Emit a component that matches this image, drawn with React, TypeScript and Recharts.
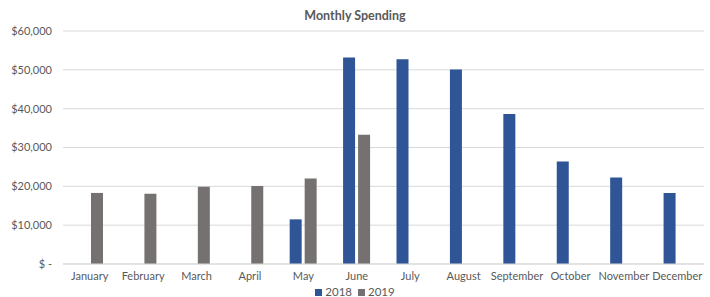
import React from "react";
import { BarChart, Bar, XAxis, YAxis, CartesianGrid } from "recharts";

const months = ["January","February","March","April","May","June","July","August","September","October","November","December"];
const spending2018 = [null, null, null, null, 11500, 53200, 52700, 50100, 38600, 26400, 22300, 18300];
const spending2019 = [18300, 18100, 19900, 20100, 22000, 33300, null, null, null, null, null, null];
const yTicks = [0, 10000, 20000, 30000, 40000, 50000, 60000];
const seriesNames = ["2018", "2019"];
const seriesColors = ["#2F5597", "#767171"];

const data = months.map((m, i) => ({ month: m, y2018: spending2018[i], y2019: spending2019[i] }));

const FONT = "Lato, 'Open Sans', sans-serif";
const TXT = "#595959";

const fmt = (v: number) => (v === 0 ? "$ -" : "$" + v.toLocaleString("en-US"));

export default function App() {
  return (
    <div style={{ position: "absolute", left: 0, top: 0, width: 710, height: 297, background: "#fff", fontFamily: FONT }}>
      <div style={{ position: "absolute", left: 0, top: 8, width: 710, textAlign: "center", fontSize: 12.5, fontWeight: 700, color: TXT }}>
        Monthly Spending
      </div>
      <BarChart width={710} height={297} data={data} margin={{ top: 31, right: 6, bottom: 3, left: 0 }} barSize={12} barGap={3}>
        <CartesianGrid vertical={false} stroke="#d9d9d9" />
        <XAxis dataKey="month" tickLine={false} axisLine={{ stroke: "#d9d9d9" }} tick={{ fontSize: 11, fill: TXT, fontFamily: FONT }} interval={0} />
        <YAxis width={63} domain={[0, 60000]} ticks={yTicks} tickFormatter={fmt} axisLine={false} tickLine={false} tickMargin={5} tick={{ fontSize: 11, fill: TXT, fontFamily: FONT }} />
        <Bar dataKey="y2018" name="2018" fill={seriesColors[0]} isAnimationActive={false} />
        <Bar dataKey="y2019" name="2019" fill={seriesColors[1]} isAnimationActive={false} />
      </BarChart>
      <div style={{ position: "absolute", left: 0, top: 285, width: 710, display: "flex", justifyContent: "center", gap: 6, fontSize: 11.5, color: TXT, lineHeight: "14px" }}>
        {seriesNames.map((n, i) => (
          <span key={n} style={{ display: "inline-flex", alignItems: "center" }}>
            <span style={{ display: "inline-block", width: 7, height: 7, background: seriesColors[i], marginRight: 3 }} />
            {n}
          </span>
        ))}
      </div>
    </div>
  );
}
